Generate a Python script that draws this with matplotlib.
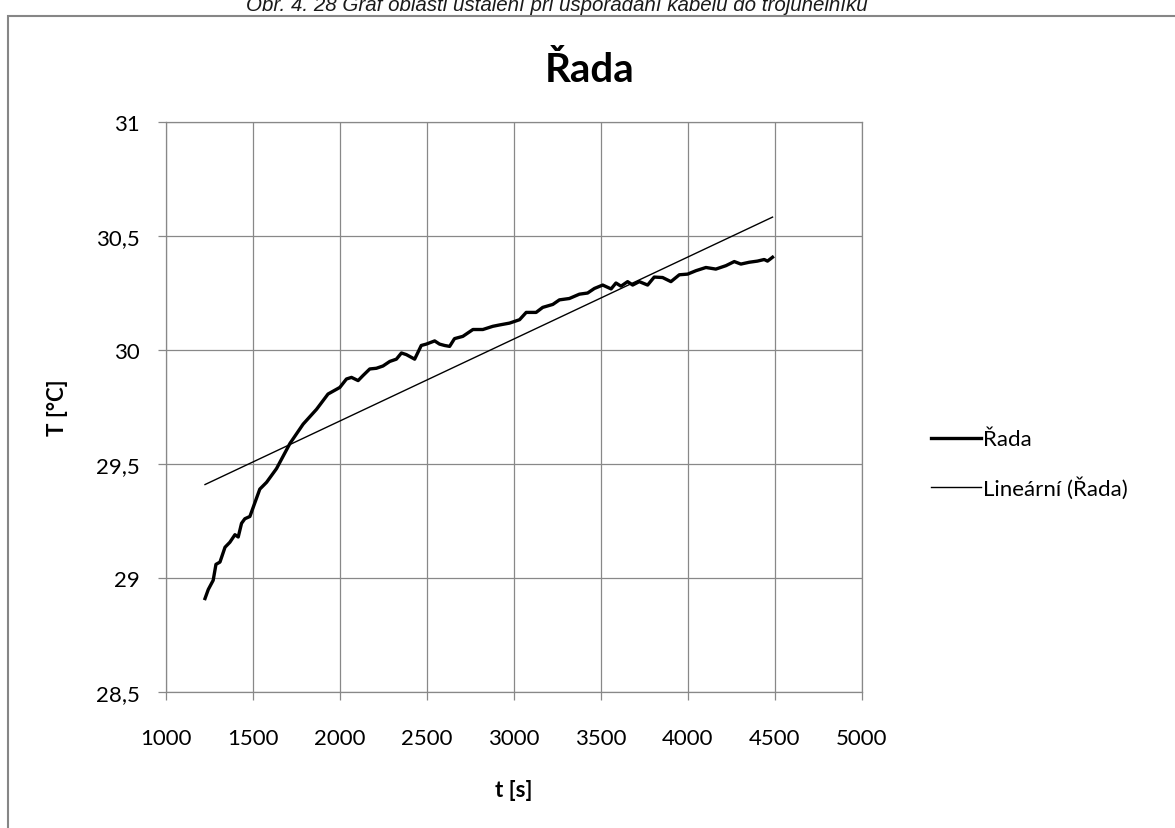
import matplotlib
matplotlib.use('Agg')
import matplotlib.pyplot as plt
from matplotlib.patches import Rectangle

# data (time in s, temperature in °C)
cas = [1224, 1243, 1271, 1287, 1310, 1339, 1367, 1396, 1415, 1434, 1453, 1482,
       1539, 1578, 1635, 1712, 1788, 1865, 1931, 1999, 2037, 2066, 2104, 2132,
       2171, 2209, 2247, 2286, 2324, 2353, 2381, 2429, 2467, 2496, 2544, 2572,
       2601, 2630, 2658, 2706, 2764, 2821, 2878, 2917, 2974, 3032, 3070, 3127,
       3165, 3223, 3261, 3318, 3376, 3423, 3462, 3510, 3558, 3586, 3615, 3653,
       3682, 3720, 3768, 3806, 3854, 3902, 3950, 3998, 4046, 4103, 4160, 4218,
       4266, 4304, 4352, 4399, 4438, 4457, 4486]
teplota = [28.91, 28.95, 28.99, 29.06, 29.07, 29.135, 29.157, 29.19, 29.18, 29.24,
           29.26, 29.27, 29.39, 29.42, 29.48, 29.59, 29.675, 29.74, 29.807, 29.836,
           29.873, 29.88, 29.866, 29.888, 29.917, 29.92, 29.93, 29.95, 29.96, 29.987,
           29.98, 29.96, 30.02, 30.026, 30.04, 30.026, 30.02, 30.016, 30.05, 30.06,
           30.09, 30.09, 30.104, 30.11, 30.118, 30.133, 30.165, 30.165, 30.187, 30.20,
           30.22, 30.226, 30.245, 30.25, 30.27, 30.285, 30.268, 30.294, 30.28, 30.30,
           30.285, 30.30, 30.285, 30.32, 30.318, 30.30, 30.33, 30.333, 30.348, 30.362,
           30.355, 30.37, 30.388, 30.377, 30.385, 30.39, 30.397, 30.39, 30.407]

# linearni trend - koncove body
trend_cas = [1224, 4486]
trend_teplota = [29.41, 30.583]

x_ticks = [1000, 1500, 2000, 2500, 3000, 3500, 4000, 4500, 5000]
y_ticks = [28.5, 29, 29.5, 30, 30.5, 31]
y_labels = ['28,5', '29', '29,5', '30', '30,5', '31']

plt.rcParams['font.family'] = ['Lato', 'DejaVu Sans']

fig = plt.figure(figsize=(11.75, 8.29), dpi=100)
ax = fig.add_axes([0.1413, 0.164, 0.5923, 0.6876])

ax.plot(cas, teplota, color='black', linewidth=2.4, label='Řada', zorder=3)
ax.plot(trend_cas, trend_teplota, color='black', linewidth=1.0,
        label='Lineární (Řada)', zorder=3)

ax.set_xlim(1000, 5000)
ax.set_ylim(28.5, 31)
ax.set_xticks(x_ticks)
ax.set_yticks(y_ticks)
ax.set_yticklabels(y_labels)
ax.grid(True, color='#888888', linewidth=0.9)
for s in ax.spines.values():
    s.set_color('#888888')
    s.set_linewidth(0.9)
ax.tick_params(colors='#888888', labelcolor='black', length=6, width=0.9,
               labelsize=16, pad=13)
ax.tick_params(axis='x', pad=20)

ax.set_xlabel('t [s]', fontsize=16, fontweight='bold', labelpad=22)
ax.set_ylabel('T [°C]', fontsize=16, fontweight='bold', labelpad=20)

# nadpis je vycentrovany na celou oblast grafu
fig.text(590 / 1175, 1 - 82 / 829, 'Řada', ha='center', va='baseline',
         fontsize=29, fontweight='bold')

ax.legend(loc='center left', bbox_to_anchor=(1.07, 0.40), frameon=False,
          fontsize=16, handlelength=2.25, handletextpad=0.1, labelspacing=1.2)

# ramecek grafu a popisek obrazku
fig.patches.append(Rectangle((8 / 1175, -0.1), 1.2, 1 - 17 / 829 + 0.1,
                             transform=fig.transFigure, fill=False,
                             edgecolor='#868686', linewidth=1.5))
fig.text(557 / 1175, 1 - 11 / 829,
         'Obr. 4. 28 Graf oblasti ustálení při uspořádání kabelu do trojúhelníku',
         ha='center', va='baseline', fontsize=14.8, style='italic',
         family='Liberation Sans', color='#1a1a1a')

fig.savefig('out.png', dpi=100)
